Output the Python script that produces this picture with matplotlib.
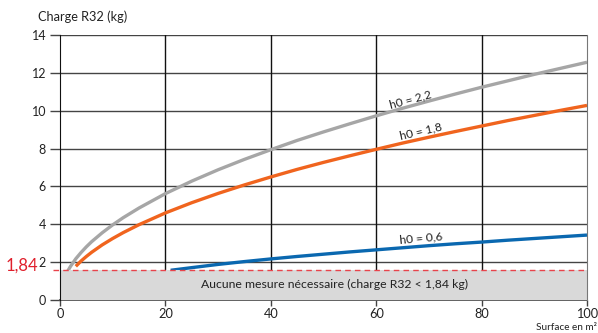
import matplotlib
matplotlib.use("Agg")
import matplotlib.pyplot as plt

plt.rcParams['font.family'] = ['Lato', 'DejaVu Sans']

# Data
surface = [1.3, 2, 3, 4, 5, 6, 8, 10, 12, 15, 20, 25, 30, 35, 40, 45, 50, 55, 60, 65, 70, 75, 80, 85, 90, 95, 100]
charge_h22 = [1.45, 1.78, 2.18, 2.51, 2.81, 3.08, 3.55, 3.97, 4.35, 4.86, 5.62, 6.28, 6.88, 7.43, 7.94, 8.43, 8.88, 9.31, 9.73, 10.13, 10.51, 10.88, 11.24, 11.58, 11.92, 12.24, 12.56]
surface_18 = [3.0, 4, 5, 6, 8, 10, 12, 15, 20, 25, 30, 35, 40, 45, 50, 55, 60, 65, 70, 75, 80, 85, 90, 95, 100]
charge_h18 = [1.78, 2.06, 2.30, 2.52, 2.91, 3.25, 3.56, 3.98, 4.60, 5.14, 5.63, 6.08, 6.50, 6.90, 7.27, 7.62, 7.96, 8.29, 8.60, 8.90, 9.19, 9.48, 9.75, 10.02, 10.28]
surface_06 = [21, 25, 30, 35, 40, 45, 50, 55, 60, 65, 70, 75, 80, 85, 90, 95, 100]
charge_h06 = [1.57, 1.71, 1.88, 2.03, 2.17, 2.30, 2.42, 2.54, 2.65, 2.76, 2.87, 2.97, 3.06, 3.16, 3.25, 3.34, 3.43]
threshold_drawn = 1.6
threshold_label = "1,84"
x_ticks = [0, 20, 40, 60, 80, 100]
y_ticks = [0, 2, 4, 6, 8, 10, 12, 14]

fig = plt.figure(figsize=(5.98, 3.33), dpi=100)
ax = fig.add_axes([60/598, 1-300/333, 527/598, 265/333])
ax.set_xlim(0, 100)
ax.set_ylim(0, 14)

for yv in y_ticks[1:]:
    ax.axhline(yv, color='#444444', lw=1.0, zorder=1)
for xv in x_ticks[1:-1]:
    ax.axvline(xv, color='#111111', lw=1.0, zorder=1)

ax.plot(surface, charge_h22, color='#a6a6a6', lw=2.4, solid_capstyle='butt', zorder=3)
ax.plot(surface_18, charge_h18, color='#f0641e', lw=2.4, solid_capstyle='butt', zorder=3)
ax.plot(surface_06, charge_h06, color='#0a68b0', lw=2.4, solid_capstyle='butt', zorder=3)

ax.fill_between([0, 100], 0, threshold_drawn, color='#d9d9d9', zorder=4, lw=0)
ax.plot([-1.4, 100], [threshold_drawn, threshold_drawn], color='#e8434b', lw=1.0,
        ls=(0, (4, 3)), clip_on=False, zorder=5)

ax.spines['top'].set_visible(False)
ax.spines['left'].set_color('#111111')
ax.spines['right'].set_color('#777777')
ax.spines['bottom'].set_color('#555555')
ax.spines['bottom'].set_linewidth(1.3)
ax.spines['left'].set_zorder(6)
ax.spines['right'].set_zorder(6)

ax.set_xticks(x_ticks)
ax.set_yticks(y_ticks)
ax.tick_params(axis='y', length=7, width=1.0, color='#444444', labelsize=9, pad=3, labelcolor='#222222')
ax.tick_params(axis='x', length=4, width=1.0, color='#444444', labelsize=9.2, pad=1.5, labelcolor='#222222')
ax.set_xticklabels([str(v) for v in x_ticks])
ax.set_yticklabels([str(v) for v in y_ticks])

fig.text(38/598, 1-17/333, "Charge R32 (kg)", fontsize=9.2, va='center', ha='left', color='#222222')
fig.text(597/598, 1-328/333, "Surface en m²", fontsize=7.2, va='center', ha='right', color='#222222')
fig.text(6/598, 1-266/333, threshold_label, fontsize=12, color='#e0202c', va='center', ha='left')

ax.text(52, 0.82, "Aucune mesure nécessaire (charge R32 < 1,84 kg)", fontsize=8.8,
        ha='center', va='center', color='#222222', zorder=7)

ax.text(66.5, 10.6, "h0 = 2,2", fontsize=8.6, rotation=15, ha='center', va='center', color='#222222', zorder=7)
ax.text(68.5, 8.9, "h0 = 1,8", fontsize=8.6, rotation=13, ha='center', va='center', color='#222222', zorder=7)
ax.text(68.5, 3.25, "h0 = 0,6", fontsize=8.6, rotation=5, ha='center', va='center', color='#222222', zorder=7)

fig.savefig("out.png", dpi=100)
